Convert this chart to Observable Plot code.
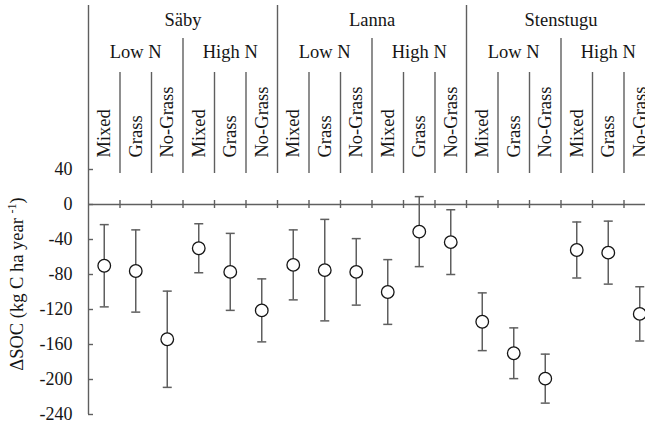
<!DOCTYPE html>
<html>
<head>
<meta charset="utf-8">
<script src="https://cdn.jsdelivr.net/npm/d3@7"></script>
<script src="https://cdn.jsdelivr.net/npm/@observablehq/plot@0.6"></script>
<style>
  html, body { margin: 0; padding: 0; background: #fff; overflow: hidden; }
  #chart svg text { font-family: "Liberation Serif", "Times New Roman", serif; }
</style>
</head>
<body>
<div id="chart"></div>
<script>
// Grouping: site → N level → treatment
const sites = ["Säby", "Lanna", "Stenstugu"];
const nLevels = ["Low N", "High N"];
const treatments = ["Mixed", "Grass", "No-Grass"];

// Mean change in soil organic carbon (kg C ha-1 year-1), in grouping order
const deltaSOC = [-70, -76, -154, -50, -77, -121, -69, -75, -77, -100, -31, -43, -134, -170, -199, -52, -55, -125];
// Half-width of each error bar
const errorHalf = [47, 47, 55, 28, 44, 36, 40, 58, 38, 37, 40, 37, 33, 29, 28, 32, 36, 31];

const yTicks = [40, 0, -40, -80, -120, -160, -200, -240];
const yDomain = [-240, 40];
const yTitle = "ΔSOC (kg C ha year -1)";

const serif = "Liberation Serif";

const nT = treatments.length;
const nN = nLevels.length;
const rows = [];
sites.forEach((site, s) => nLevels.forEach((level, n) => treatments.forEach((treatment, k) => {
  const i = (s * nN + n) * nT + k;
  rows.push({
    site, level, treatment,
    pos: i + 0.5,
    mean: deltaSOC[i],
    lo: deltaSOC[i] - errorHalf[i],
    hi: deltaSOC[i] + errorHalf[i]
  });
})));
const total = rows.length;

const siteLabels = sites.map((label, s) => ({label, pos: (s + 0.5) * nN * nT}));
const levelLabels = sites.flatMap((_, s) => nLevels.map((label, n) => ({label, pos: (s * nN + n + 0.5) * nT})));
const boundaries = d3.range(1, total).map(b => ({
  pos: b,
  kind: b % (nN * nT) === 0 ? "site" : b % nT === 0 ? "level" : "treatment"
}));

// Horizontal stroke used as the error-bar cap
const capSymbol = {
  draw(context, size) {
    const w = Math.sqrt(size / Math.PI);
    context.moveTo(-w, 0);
    context.lineTo(w, 0);
  }
};

const lineColor = "#5f5f5f";
const inkColor = "#151515";

const chart = Plot.plot({
  width: 645,
  height: 424,
  marginLeft: 88,
  marginRight: 0,
  marginTop: 5,
  marginBottom: 10,
  style: {
    fontFamily: serif,
    fontSize: "18.5px",
    color: inkColor,
    background: "white",
    overflow: "hidden"
  },
  x: {domain: [0, total], range: [88, 655], axis: null},
  y: {domain: yDomain, range: [414, 169]},
  marks: [
    // header separators
    Plot.ruleX(boundaries.filter(d => d.kind === "site"), {x: "pos", insetTop: 0, insetBottom: 241, stroke: lineColor, strokeWidth: 1.4}),
    Plot.ruleX(boundaries.filter(d => d.kind === "level"), {x: "pos", insetTop: 33, insetBottom: 241, stroke: lineColor, strokeWidth: 1.4}),
    Plot.ruleX(boundaries.filter(d => d.kind === "treatment"), {x: "pos", insetTop: 67, insetBottom: 241, stroke: lineColor, strokeWidth: 1.4}),
    // header labels
    Plot.text(siteLabels, {x: "pos", text: "label", frameAnchor: "top", lineAnchor: "bottom", dy: 20, fill: inkColor, fontFamily: serif, fontSize: 18.5}),
    Plot.text(levelLabels, {x: "pos", text: "label", frameAnchor: "top", lineAnchor: "bottom", dy: 52, fill: inkColor, fontFamily: serif, fontSize: 18.5}),
    Plot.text(rows, {x: "pos", text: "treatment", frameAnchor: "top", rotate: -90, textAnchor: "start", lineAnchor: "middle", dy: 152, fill: inkColor, fontFamily: serif, fontSize: 18.5}),
    // y axis
    Plot.ruleX([0], {stroke: lineColor, strokeWidth: 1.4}),
    Plot.axisY({ticks: yTicks, tickSize: 0, tickPadding: 16, tickFormat: d => String(d), fontSize: 18, fontFamily: serif, fontVariant: "normal", fill: inkColor}),
    Plot.axisY({ticks: yTicks, tickSize: -5, tickFormat: () => "", stroke: lineColor, strokeWidth: 1.4}),
    Plot.text([yTitle], {
      text: d => d,
      y: (yDomain[0] + yDomain[1]) / 2,
      frameAnchor: "left",
      dx: -71,
      dy: -8,
      rotate: -90,
      textAnchor: "middle",
      lineAnchor: "middle",
      fill: inkColor,
      fontFamily: serif,
      fontSize: 18.5
    }),
    // zero line with group ticks
    Plot.ruleY([0], {stroke: lineColor, strokeWidth: 1.5}),
    Plot.ruleX(boundaries, {x: "pos", y1: 0, y2: 0, insetTop: -4, insetBottom: -4, stroke: lineColor, strokeWidth: 1.4}),
    // error bars
    Plot.ruleX(rows, {x: "pos", y1: "lo", y2: "hi", stroke: lineColor, strokeWidth: 1.5}),
    Plot.dot(rows, {x: "pos", y: "hi", symbol: capSymbol, r: 4.5, fill: "none", stroke: lineColor, strokeWidth: 1.5}),
    Plot.dot(rows, {x: "pos", y: "lo", symbol: capSymbol, r: 4.5, fill: "none", stroke: lineColor, strokeWidth: 1.5}),
    // means
    Plot.dot(rows, {x: "pos", y: "mean", r: 6.3, fill: "white", stroke: inkColor, strokeWidth: 1.3})
  ]
});

// superscript exponent in the axis title
d3.select(chart).selectAll("text")
  .filter(function () { return this.textContent === yTitle; })
  .each(function () {
    const t = d3.select(this);
    t.text("");
    t.append("tspan").text("ΔSOC (kg C ha year ");
    t.append("tspan").attr("font-size", "12px").attr("dy", "-7").text("-1");
    t.append("tspan").attr("dy", "7").text(")");
  });

document.getElementById("chart").append(chart);
</script>
</body>
</html>
